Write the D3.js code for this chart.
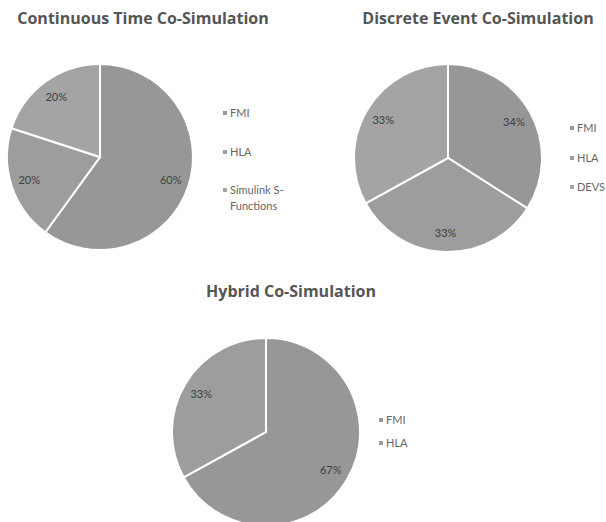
<!DOCTYPE html>
<html>
<head>
<meta charset="utf-8">
<script src="https://cdn.jsdelivr.net/npm/d3@7/dist/d3.min.js"></script>
<style>
  body { margin: 0; background: #fff; }
  svg { display: block; }
</style>
</head>
<body>
<svg id="chart" width="606" height="522"></svg>
<script>
// ---- data ----
const continuousLabels = ["FMI", "HLA", "Simulink S-Functions"];
const continuousValues = [60, 20, 20];
const discreteLabels = ["FMI", "HLA", "DEVS"];
const discreteValues = [34, 33, 33];
const hybridLabels = ["FMI", "HLA"];
const hybridValues = [67, 33];
const titles = ["Continuous Time Co-Simulation", "Discrete Event Co-Simulation", "Hybrid Co-Simulation"];

// ---- layout / style ----
const charts = [
  { title: titles[0], labels: continuousLabels, values: continuousValues,
    cx: 100, cy: 157, r: 93, tx: 143, ty: 24,
    legendX: 225, legendY: [113, 152, 190], wrap: true },
  { title: titles[1], labels: discreteLabels, values: discreteValues,
    cx: 448, cy: 158, r: 94, tx: 478, ty: 24,
    legendX: 572, legendY: [128, 158, 187] },
  { title: titles[2], labels: hybridLabels, values: hybridValues,
    cx: 266, cy: 432, r: 94, tx: 291, ty: 297,
    legendX: 381, legendY: [420, 443] }
];
const colors = ["#979797", "#9d9d9d", "#a4a4a4"];
const font = "Lato, 'Open Sans', sans-serif";
const titleFont = "'Open Sans', Lato, sans-serif";

const svg = d3.select("#chart");

charts.forEach(c => {
  const g = svg.append("g");
  g.append("text")
    .attr("x", c.tx).attr("y", c.ty)
    .attr("text-anchor", "middle")
    .attr("font-family", titleFont)
    .attr("font-weight", "bold")
    .attr("font-size", 16)
    .attr("fill", "#555")
    .text(c.title);

  const pie = d3.pie().sort(null).value(d => d)(c.values);
  const arc = d3.arc().innerRadius(0).outerRadius(c.r);
  const labelArc = d3.arc().innerRadius(c.r * 0.8).outerRadius(c.r * 0.8);
  const color = d3.scaleOrdinal().domain(c.labels).range(colors);

  const pg = g.append("g").attr("transform", `translate(${c.cx},${c.cy})`);
  pg.selectAll("path").data(pie).join("path")
    .attr("d", arc)
    .attr("fill", (d, i) => color(c.labels[i]))
    .attr("stroke", "#fff")
    .attr("stroke-width", 2);

  pg.selectAll("text").data(pie).join("text")
    .attr("transform", d => `translate(${labelArc.centroid(d)})`)
    .attr("text-anchor", "middle")
    .attr("dy", "0.35em")
    .attr("font-family", font)
    .attr("font-size", 11)
    .attr("fill", "#404040")
    .text(d => d.data + "%");

  c.labels.forEach((lab, i) => {
    const y = c.legendY[i];
    g.append("rect")
      .attr("x", c.legendX - 2).attr("y", y - 2)
      .attr("width", 4).attr("height", 4)
      .attr("fill", color(lab));
    const t = g.append("text")
      .attr("x", c.legendX + 5).attr("y", y)
      .attr("dy", "0.35em")
      .attr("font-family", font)
      .attr("font-size", 11)
      .attr("fill", "#666");
    if (c.wrap && lab === "Simulink S-Functions") {
      t.append("tspan").attr("x", c.legendX + 5).text("Simulink S-");
      t.append("tspan").attr("x", c.legendX + 5).attr("dy", "1.45em").text("Functions");
    } else {
      t.text(lab);
    }
  });
});
</script>
</body>
</html>
